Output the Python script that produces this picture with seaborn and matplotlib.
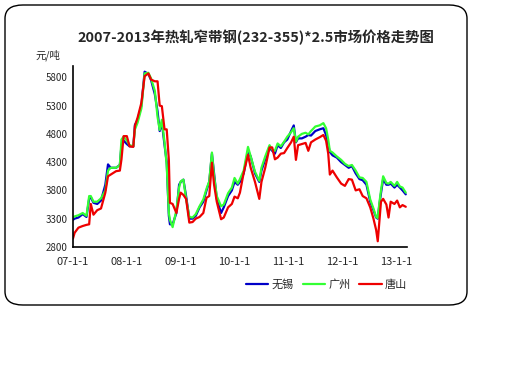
import matplotlib
matplotlib.use("Agg")
import matplotlib.pyplot as plt
from matplotlib.patches import FancyBboxPatch
import seaborn as sns
import pandas as pd

# time in decimal years (weekly price samples, thinned)
t = [2007.00, 2007.03, 2007.10, 2007.18, 2007.25, 2007.30, 2007.33, 2007.38, 2007.45, 2007.52,
     2007.60, 2007.65, 2007.70, 2007.80, 2007.87, 2007.90, 2007.94, 2008.00, 2008.05, 2008.12,
     2008.15, 2008.20, 2008.27, 2008.33, 2008.40, 2008.45, 2008.52, 2008.57, 2008.61, 2008.65,
     2008.70, 2008.74, 2008.78, 2008.80, 2008.85, 2008.92, 2008.97, 2009.00, 2009.05, 2009.10,
     2009.16, 2009.22, 2009.28, 2009.35, 2009.42, 2009.48, 2009.53, 2009.58, 2009.62, 2009.67,
     2009.75, 2009.80, 2009.88, 2009.95, 2010.00, 2010.06, 2010.10, 2010.17, 2010.25, 2010.30,
     2010.38, 2010.46, 2010.50, 2010.57, 2010.65, 2010.70, 2010.75, 2010.80, 2010.86, 2010.92,
     2010.98, 2011.05, 2011.10, 2011.14, 2011.18, 2011.25, 2011.32, 2011.37, 2011.42, 2011.50,
     2011.58, 2011.65, 2011.70, 2011.74, 2011.77, 2011.82, 2011.90, 2011.98, 2012.05, 2012.12,
     2012.18, 2012.25, 2012.32, 2012.38, 2012.45, 2012.52, 2012.58, 2012.63, 2012.66, 2012.69,
     2012.72, 2012.76, 2012.82, 2012.86, 2012.90, 2012.97, 2013.02, 2013.07, 2013.12, 2013.18]

wuxi = [3280, 3300, 3320, 3380, 3330, 3650, 3680, 3580, 3560, 3620,
        3900, 4260, 4200, 4200, 4250, 4600, 4680, 4620, 4580, 4580,
        4960, 5050, 5300, 5900, 5860, 5750, 5500, 5200, 4850, 5000,
        4600, 4300, 3350, 3200, 3200, 3400, 3900, 3950, 3990, 3700,
        3300, 3300, 3350, 3500, 3600, 3800, 3950, 4450, 4100, 3650,
        3400, 3500, 3700, 3800, 3950, 3900, 3950, 4100, 4500, 4400,
        4100, 3950, 4150, 4350, 4550, 4500, 4450, 4600, 4550, 4650,
        4700, 4850, 4950, 4650, 4720, 4720, 4750, 4780, 4770, 4850,
        4880, 4900, 4780, 4600, 4480, 4420, 4380, 4300, 4250, 4200,
        4230, 4100, 4000, 3980, 3900, 3600, 3450, 3320, 3300, 3550,
        3750, 4000, 3900, 3900, 3920, 3850, 3900, 3850, 3800, 3730]

guangzhou = [3320, 3340, 3360, 3400, 3350, 3700, 3700, 3600, 3600, 3660,
             3800, 4150, 4200, 4200, 4250, 4700, 4750, 4680, 4600, 4580,
             4880, 5000, 5250, 5870, 5880, 5780, 5560, 5100, 4870, 5050,
             4650, 4250, 3400, 3280, 3150, 3450, 3850, 3960, 3990, 3650,
             3330, 3320, 3380, 3520, 3640, 3830, 3960, 4470, 4050, 3700,
             3520, 3550, 3750, 3850, 4020, 3920, 4000, 4150, 4570, 4400,
             4130, 3970, 4200, 4400, 4600, 4520, 4500, 4630, 4580, 4660,
             4750, 4830, 4900, 4660, 4750, 4800, 4820, 4790, 4850, 4930,
             4950, 4990, 4900, 4700, 4500, 4470, 4400, 4340, 4270, 4230,
             4250, 4150, 4030, 4020, 3950, 3640, 3480, 3330, 3310, 3580,
             3800, 4050, 3930, 3920, 3950, 3880, 3950, 3870, 3850, 3760]

tangshan = [2950, 3050, 3140, 3170, 3190, 3200, 3560, 3370, 3450, 3480,
            3760, 4050, 4080, 4140, 4150, 4350, 4760, 4760, 4580, 4570,
            4940, 5090, 5350, 5820, 5870, 5760, 5730, 5730, 5300, 5290,
            4880, 4880, 4340, 3580, 3560, 3400, 3650, 3760, 3720, 3650,
            3230, 3240, 3300, 3330, 3400, 3670, 3700, 4290, 3900, 3600,
            3290, 3320, 3500, 3560, 3690, 3660, 3760, 4110, 4430, 4200,
            3950, 3650, 3950, 4200, 4560, 4560, 4350, 4380, 4450, 4460,
            4550, 4650, 4750, 4340, 4600, 4620, 4640, 4500, 4650, 4700,
            4740, 4780, 4680, 4450, 4080, 4150, 4030, 3920, 3880, 4000,
            3990, 3800, 3820, 3700, 3660, 3500, 3300, 3100, 2900, 3250,
            3600, 3650, 3550, 3320, 3600, 3560, 3620, 3500, 3540, 3510]

cities = ["无锡", "广州", "唐山"]
colors = {"无锡": "#0000C8", "广州": "#33FF33", "唐山": "#EE0000"}
x_ticks = [2007, 2008, 2009, 2010, 2011, 2012, 2013]
x_labels = ["07-1-1", "08-1-1", "09-1-1", "10-1-1", "11-1-1", "12-1-1", "13-1-1"]
y_ticks = [2800, 3300, 3800, 4300, 4800, 5300, 5800]

df = pd.concat([
    pd.DataFrame({"t": t, "price": v, "city": c})
    for c, v in zip(cities, [wuxi, guangzhou, tangshan])
])

sns.set_style("white")
plt.rcParams["font.family"] = ["Noto Sans CJK SC", "DejaVu Sans"]

fig = plt.figure(figsize=(5.12, 3.84), dpi=100)
ax = fig.add_axes([0.1426, 0.357, 0.652, 0.471])

sns.lineplot(data=df, x="t", y="price", hue="city", hue_order=cities,
             palette=colors, linewidth=1.6, ax=ax, legend=False)

ax.set_xlim(2007.0, 2013.2)
ax.set_ylim(2800, 6000)
ax.set_xticks(x_ticks)
ax.set_xticklabels(x_labels, fontsize=8)
ax.set_yticks(y_ticks)
ax.set_yticklabels([str(v) for v in y_ticks], fontsize=7)
ax.tick_params(axis="x", direction="in", length=3, width=1, pad=7, color="black")
ax.tick_params(axis="y", direction="out", length=2, width=1, pad=2, color="black")
ax.set_xlabel("")
ax.set_ylabel("")
for side in ["top", "right"]:
    ax.spines[side].set_visible(False)
for side in ["left", "bottom"]:
    ax.spines[side].set_color("black")
    ax.spines[side].set_linewidth(1.2)

fig.text(0.5, 0.903, "2007-2013年热轧窄带钢(232-355)*2.5市场价格走势图",
         ha="center", va="center", fontsize=10.4, fontweight="bold")
fig.text(0.069, 0.857, "元/吨", ha="left", va="center", fontsize=7.5)

handles = [plt.Line2D([], [], color=colors[c], linewidth=1.6) for c in cities]
fig.legend(handles, cities, loc="center", bbox_to_anchor=(0.638, 0.26), ncol=3,
           frameon=False, fontsize=8, handlelength=2.0, handletextpad=0.3,
           columnspacing=0.8)

border = FancyBboxPatch((5 / 512, 1 - 305 / 384), 462 / 512, 300 / 384,
                        boxstyle="round,pad=0,rounding_size=0.035",
                        transform=fig.transFigure, fill=False,
                        edgecolor="black", linewidth=1.0)
fig.patches.append(border)

fig.savefig("out.png", dpi=100)
